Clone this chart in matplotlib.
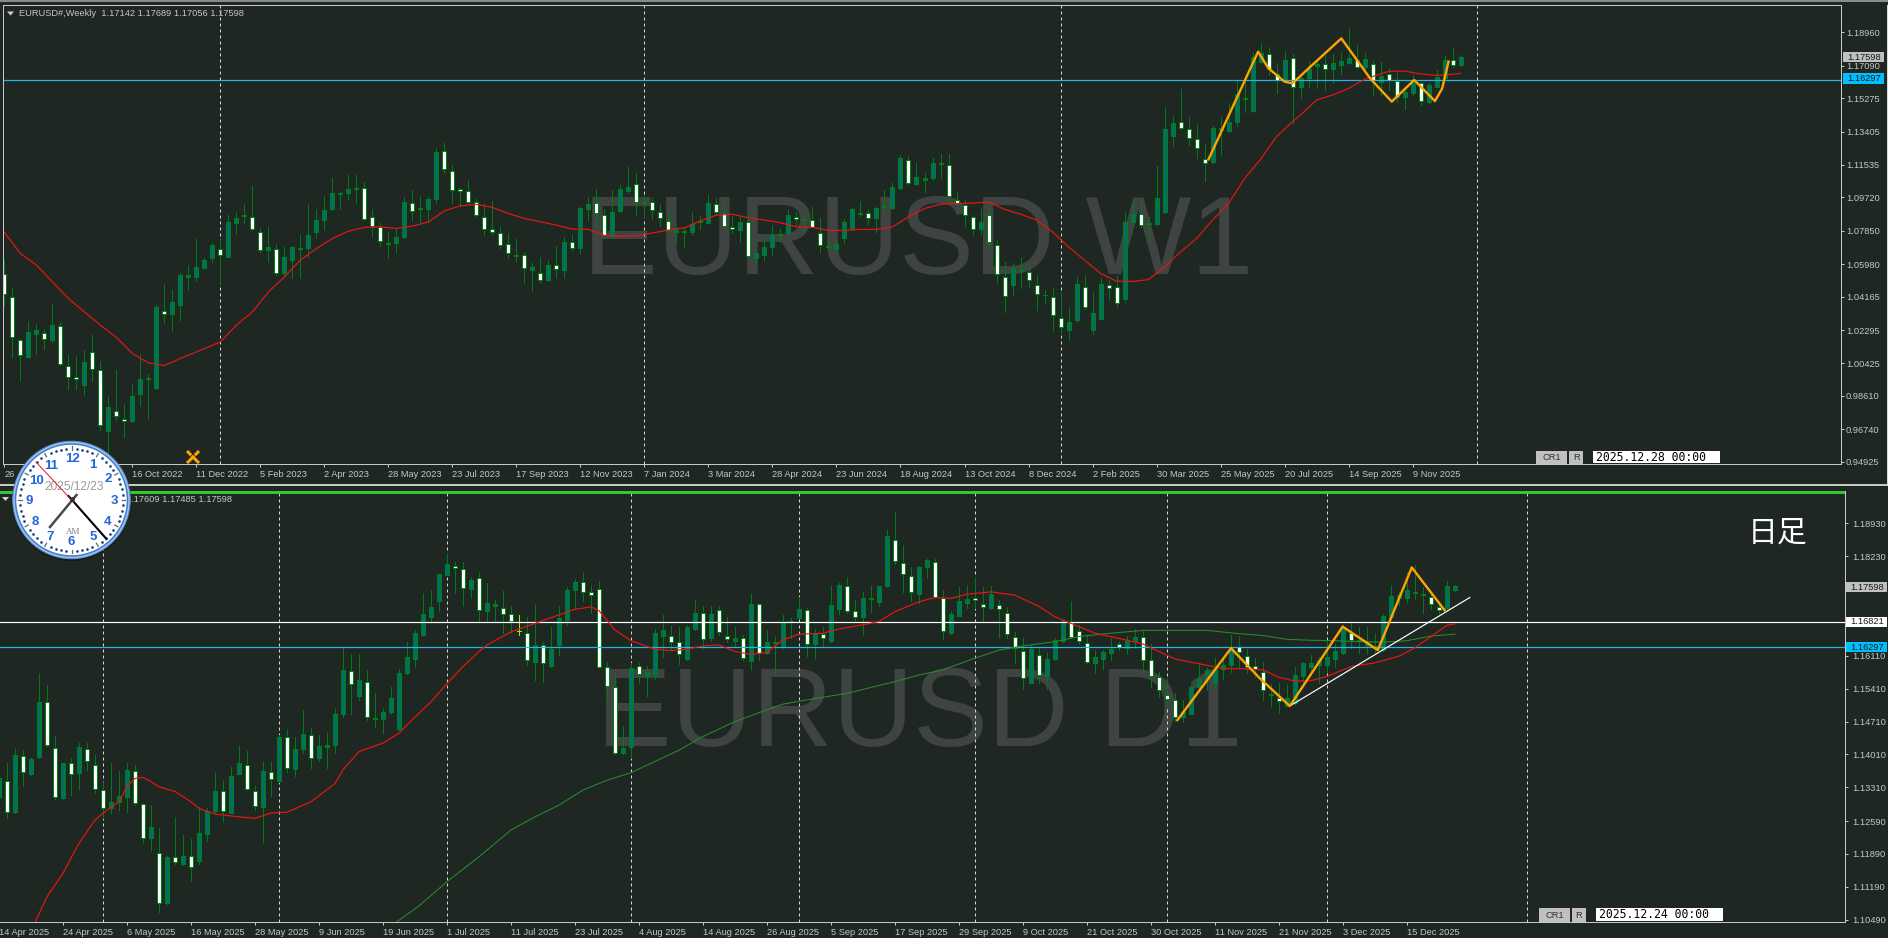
import numpy as np
import matplotlib
matplotlib.use("Agg")
import matplotlib.pyplot as plt
from matplotlib.patches import Rectangle, Circle

W, H = 1888, 938
BG = '#1f2723'

# ---- weekly EURUSD, prices in units of 0.0001
weekly_open = [10542,10415,10173,10079,10210,10214,10176,10253,10027,9967,
9924,10107,10008,9665,9777,9732,9721,9874,9956,9906,
10337,10322,10372,10529,10527,10578,10634,10684,10641,10830,
10867,10863,10779,10680,10682,10546,10624,10684,10686,10776,
10843,10905,10990,10994,11020,11026,10863,10807,10718,10714,
10748,10942,10905,10908,10961,11233,11119,11018,11007,10946,
10863,10794,10774,10712,10652,10651,10568,10550,10507,10593,
10568,10722,10686,10908,10942,10873,10757,10897,11005,11045,
10938,10947,10891,10841,10779,10778,10776,10837,10830,10936,
10882,10806,10787,10834,10630,10652,10692,10759,10770,10862,
10845,10845,10774,10699,10684,10742,10802,10878,10884,10854,
10923,10914,11026,11183,11045,11071,11078,11157,11155,10957,
10929,10863,10793,10873,10705,10526,10479,10561,10554,10481,
10423,10415,10296,10232,10283,10471,10232,10294,10481,10471,
10406,10837,10878,10821,10822,10888,11313,11396,11356,11300,
11188,11172,11349,11343,11396,11521,11457,11728,11776,11663,
11629,11754,11592,11642,11709,11720,11692,11711,11726,11741,
11704,11719,11616,11663,11625,11532,11554,11612,11508,11592,
11638,11739,11714]
weekly_close = [10430,10188,10089,10216,10227,10182,10260,10042,9964,9958,
10048,10014,9697,9799,9747,9723,9863,9958,9960,10356,
10322,10389,10540,10535,10585,10619,10703,10649,10832,10854,
10871,10793,10680,10695,10546,10636,10695,10690,10759,10843,
10903,10994,10994,11017,11026,10850,10811,10729,10709,10748,
10944,10895,10910,10964,11224,11130,11013,11007,10944,10873,
10794,10779,10705,10658,10643,10574,10583,10509,10595,10570,
10723,10686,10910,10936,10886,10761,10891,11017,11031,10944,
10947,10901,10854,10789,10789,10783,10821,10841,10938,10888,
10811,10793,10837,10643,10658,10692,10763,10768,10871,10849,
10850,10807,10705,10694,10712,10837,10905,10882,10854,10910,
10918,11028,11190,11050,11084,11078,11162,11162,10979,10942,
10873,10794,10837,10723,10542,10419,10578,10567,10509,10430,
10428,10313,10247,10272,10488,10358,10326,10488,10466,10382,
10835,10880,10817,10826,10966,11353,11390,11360,11304,11248,
11162,11358,11362,11392,11551,11526,11756,11778,11691,11629,
11739,11592,11642,11691,11720,11691,11722,11733,11750,11702,
11745,11629,11649,11629,11532,11564,11614,11513,11599,11644,
11739,11711,11760]
weekly_high = [10621,10462,10182,10279,10262,10238,10374,10275,10089,10083,
10117,10201,10057,9859,10005,9814,9930,10098,9982,10369,
10486,10453,10546,10596,10740,10630,10718,10733,10873,10891,
10934,11035,10798,10804,10710,10695,10699,10761,10934,10905,
10981,11082,11003,11097,11097,11058,10906,10830,10779,10793,
10975,11011,10977,10975,11246,11274,11153,11022,11069,10961,
10934,10951,10807,10770,10737,10667,10602,10639,10621,10699,
10748,10759,10916,10975,11017,10905,11013,11041,11140,11106,
10985,10966,10934,10901,10807,10807,10891,10867,10985,10966,
10947,10867,10873,10882,10662,10751,10817,10793,10901,10890,
10882,10916,10854,10737,10746,10849,10910,10951,10905,10916,
11013,11054,11207,11203,11162,11106,11192,11214,11214,11003,
10957,10873,10906,10947,10733,10613,10602,10630,10602,10537,
10453,10462,10442,10356,10527,10535,10443,10518,10509,10531,
10891,10951,10957,10863,11147,11476,11427,11579,11424,11382,
11270,11371,11424,11498,11629,11629,11778,11834,11816,11722,
11791,11775,11648,11735,11735,11769,11775,11778,11918,11825,
11782,11735,11728,11694,11670,11573,11657,11620,11610,11685,
11763,11806,11769]
weekly_low = [10363,10076,9949,10076,10098,10126,10163,10033,9902,9902,
9865,9945,9669,9519,9728,9631,9715,9803,9732,9902,
10270,10225,10288,10453,10505,10574,10611,10481,10636,10766,
10830,10789,10667,10611,10537,10537,10518,10518,10639,10746,
10789,10901,10906,10962,10942,10845,10755,10699,10634,10667,
10742,10845,10835,10835,10942,11110,10942,10923,10938,10867,
10761,10766,10686,10634,10615,10490,10449,10494,10503,10522,
10518,10680,10662,10845,10807,10748,10748,10891,10994,10873,
10854,10849,10811,10779,10723,10695,10761,10793,10826,10873,
10807,10770,10723,10636,10602,10621,10649,10723,10761,10817,
10785,10804,10667,10677,10667,10714,10789,10869,10822,10779,
10882,10905,11018,11046,11041,11003,11069,11078,10947,10929,
10811,10761,10766,10686,10494,10331,10425,10462,10468,10341,
10382,10225,10214,10176,10275,10350,10210,10290,10397,10359,
10387,10807,10807,10733,10817,10882,11259,11353,11265,11190,
11065,11166,11209,11340,11371,11452,11452,11722,11657,11558,
11625,11390,11526,11592,11582,11573,11610,11663,11719,11694,
11689,11545,11545,11573,11508,11468,11545,11489,11502,11588,
11633,11704,11706]

weekly_ma_x = [0,2,4,6,8,10,12,14,16,18,20,22,24,27,29,31,33,35,37,39,41,43,45,47,49,51,53,55,57,59,61,63,65,67,69,71,73,75,77,
79,80,83,85,87,89,91,93,95,97,99,101,103,105,107,109,111,113,115,117,119,121,123,125,127,129,131,133,135,137,139,141,143,145,147,149,151,153,155,157,
159,161,162,164,166,168,170,172,173,175,177,179,181,182]
weekly_ma = [10776,10658,10593,10499,10406,10331,10257,10188,10098,10046,10031,10070,10107,10163,10257,10331,10443,10527,10621,10686,10742,10783,10804,10807,10798,10811,10835,10897,10925,10933,10916,10882,10854,10835,10817,10794,10793,10759,10755,
10757,10765,10789,10802,10841,10873,10877,10858,10845,10830,10807,10804,10787,10787,10793,10793,10807,10863,10910,10934,10938,10940,10946,10905,10878,10845,10779,10695,10621,10546,10503,10501,10512,10583,10667,10742,10845,10938,11078,11185,
11312,11396,11433,11517,11545,11582,11633,11663,11677,11679,11663,11655,11661,11666]
weekly_zig_x = [150.5,156.7,156.95,158,160,161,163,167.1,170.7,173.4,176.2,178.8,179.7,180.5]
weekly_zig = [11185,11788,11769,11694,11620,11610,11694,11862,11638,11508,11629,11511,11582,11732]

weekly_ticks = [0,8,16,24,32,40,48,56,64,72,80,88,96,104,112,120,128,136,144,152,160,168,176]
weekly_dates = ['26','','16 Oct 2022','11 Dec 2022','5 Feb 2023','2 Apr 2023','28 May 2023','23 Jul 2023','17 Sep 2023','12 Nov 2023','7 Jan 2024','3 Mar 2024','28 Apr 2024','23 Jun 2024','18 Aug 2024','13 Oct 2024','8 Dec 2024','2 Feb 2025','30 Mar 2025','25 May 2025','20 Jul 2025','14 Sep 2025','9 Nov 2025']
weekly_seps = [27,80,132,184]
weekly_prices = [1.18960,1.17090,1.15275,1.13405,1.11535,1.09720,1.07850,1.05980,1.04165,1.02295,1.00425,0.98610,0.96740,0.94925]

# ---- daily EURUSD, first bar has index -1
daily_open = [11311,11345,11278,11398,11360,11395,11513,11415,11309,11383,
11361,11413,11379,11326,11286,11300,11311,11366,11295,11222,
11190,11084,11183,11167,11185,11175,11231,11281,11324,11277,
11360,11379,11324,11290,11364,11345,11437,11370,11412,11443,
11394,11416,11420,11486,11579,11526,11556,11476,11477,11491,
11456,11574,11605,11656,11694,11728,11784,11803,11796,11754,
11777,11707,11716,11713,11699,11664,11660,11597,11633,11590,
11633,11688,11752,11767,11747,11754,11588,11545,11403,11416,
11590,11567,11572,11654,11654,11641,11605,11669,11703,11648,
11708,11654,11643,11648,11599,11722,11616,11641,11630,11684,
11692,11708,11635,11658,11643,11710,11760,11706,11693,11731,
11726,11760,11858,11809,11781,11743,11801,11811,11733,11659,
11696,11723,11733,11721,11712,11720,11703,11651,11622,11554,
11613,11567,11605,11642,11682,11663,11639,11595,11605,11616,
11635,11627,11642,11650,11601,11566,11528,11517,11480,11488,
11544,11561,11554,11582,11591,11630,11611,11589,11577,11530,
11521,11505,11510,11567,11588,11591,11592,11605,11616,11659,
11642,11633,11632,11623,11693,11735,11735,11745,11743,11736,
11715,11712,11750]
daily_close = [11350,11278,11399,11364,11391,11512,11420,11310,11382,11359,
11416,11387,11327,11286,11299,11313,11367,11297,11222,11246,
11084,11183,11171,11185,11161,11233,11281,11324,11280,11356,
11382,11327,11291,11365,11348,11439,11371,11412,11444,11393,
11418,11420,11486,11580,11550,11559,11480,11478,11491,11520,
11574,11609,11659,11699,11714,11786,11806,11797,11755,11772,
11708,11723,11721,11700,11686,11663,11602,11633,11595,11625,
11691,11752,11767,11747,11740,11587,11547,11403,11414,11584,
11572,11576,11659,11665,11640,11615,11673,11703,11647,11699,
11662,11646,11648,11606,11721,11617,11641,11638,11681,11686,
11710,11636,11660,11649,11719,11761,11706,11694,11733,11733,
11759,11865,11813,11786,11746,11801,11814,11737,11664,11699,
11727,11731,11730,11715,11742,11711,11657,11628,11563,11625,
11570,11605,11645,11686,11650,11642,11598,11609,11618,11625,
11629,11643,11650,11601,11568,11538,11518,11481,11492,11545,
11562,11581,11584,11591,11630,11620,11588,11583,11538,11527,
11515,11520,11569,11595,11595,11601,11609,11621,11673,11645,
11645,11641,11628,11696,11738,11740,11750,11747,11740,11721,
11708,11759,11760]
daily_high = [11382,11382,11414,11410,11393,11574,11549,11440,11382,11393,
11425,11425,11400,11343,11382,11366,11382,11378,11297,11293,
11244,11185,11267,11229,11220,11288,11286,11363,11346,11375,
11419,11408,11334,11384,11384,11442,11454,11439,11496,11457,
11442,11449,11499,11630,11614,11614,11581,11532,11500,11544,
11582,11641,11666,11744,11752,11786,11829,11810,11811,11778,
11790,11765,11730,11749,11716,11698,11694,11721,11641,11673,
11717,11758,11775,11789,11762,11770,11598,11572,11461,11595,
11595,11589,11669,11698,11674,11673,11677,11730,11716,11716,
11718,11693,11673,11655,11742,11723,11666,11652,11698,11691,
11737,11712,11669,11673,11760,11765,11779,11730,11747,11760,
11760,11879,11917,11847,11801,11802,11818,11818,11752,11706,
11758,11762,11778,11757,11760,11730,11714,11661,11648,11634,
11627,11618,11648,11689,11728,11677,11655,11623,11623,11648,
11641,11653,11667,11664,11637,11577,11563,11532,11517,11549,
11591,11584,11606,11608,11655,11653,11625,11607,11597,11551,
11552,11551,11588,11598,11613,11609,11645,11637,11677,11680,
11672,11672,11659,11699,11762,11747,11790,11804,11757,11747,
11723,11770,11761]
daily_low = [11304,11265,11276,11334,11357,11393,11418,11307,11307,11315,
11327,11368,11318,11265,11276,11283,11279,11293,11212,11196,
11066,11082,11168,11166,11132,11168,11217,11277,11256,11276,
11359,11325,11283,11212,11312,11343,11364,11356,11405,11371,
11386,11373,11403,11481,11487,11517,11474,11460,11446,11488,
11453,11572,11587,11653,11681,11707,11782,11745,11716,11733,
11686,11684,11684,11660,11660,11655,11591,11559,11556,11586,
11613,11677,11711,11728,11701,11584,11517,11401,11402,11393,
11552,11526,11562,11609,11623,11593,11602,11666,11628,11643,
11655,11641,11630,11601,11581,11602,11614,11574,11628,11648,
11691,11611,11605,11630,11641,11700,11703,11684,11655,11705,
11716,11758,11806,11747,11728,11723,11777,11735,11646,11657,
11696,11712,11712,11684,11711,11650,11648,11596,11540,11552,
11552,11540,11602,11641,11648,11636,11596,11575,11583,11602,
11623,11615,11627,11577,11545,11524,11503,11473,11469,11487,
11538,11539,11545,11561,11577,11588,11574,11565,11517,11501,
11490,11503,11506,11556,11570,11554,11577,11588,11615,11627,
11616,11614,11620,11621,11691,11719,11723,11732,11701,11710,
11701,11708,11748]

daily_ma_x = [3.5,5,7,9,11,12,14,15,16,17,18,19,21,23,24,26,29,31,33,35,38,41,42,44,47,49,50,53,55,57,59,60,63,66,69,71,73,74,76,78,
81,83,85,87,89,91,93,95,97,99,102,104,107,109,111,114,116,118,120,123,126,129,131,134,136,139,142,144,146,149,152,155,157,159,161,163,165,168,171,174,176,178,180,181]
daily_ma = [11043,11098,11148,11212,11261,11276,11300,11332,11350,11352,11343,11332,11322,11300,11286,11274,11268,11265,11276,11278,11300,11339,11368,11407,11425,11446,11464,11513,11552,11588,11620,11634,11662,11680,11698,11710,11715,11707,11666,11643,
11625,11622,11625,11632,11634,11620,11614,11618,11645,11657,11659,11668,11677,11684,11705,11726,11735,11733,11742,11747,11740,11716,11694,11673,11659,11648,11636,11620,11604,11594,11584,11583,11581,11565,11557,11558,11567,11588,11596,11610,11628,11652,11676,11679]
daily_slow_x = [48.6,51.4,55,59,63,66,69,72,75,78,81,84,87,91,95,97,100,105,111,114,117,121,124,127,131,134,138,142,145,150,154,157,160,163,166,169,172,175,178,181]
daily_slow = [11043,11077,11130,11183,11240,11268,11293,11325,11346,11362,11386,11410,11439,11471,11496,11508,11517,11531,11556,11570,11581,11606,11623,11632,11641,11652,11659,11665,11665,11665,11658,11654,11646,11644,11643,11641,11640,11643,11653,11657]
daily_zig_x = [146.3,153,156.6,160.35,166.95,171.35,175.6,179.7]
daily_zig = [11474,11627,11563,11504,11673,11623,11799,11708]
daily_trend_x = [160.35,182.85]
daily_trend = [11504,11735]

daily_ticks = [-1,7,15,23,31,39,47,55,63,71,79,87,95,103,111,119,127,135,143,151,159,167,175]
daily_dates = ['14 Apr 2025','24 Apr 2025','6 May 2025','16 May 2025','28 May 2025','9 Jun 2025','19 Jun 2025','1 Jul 2025','11 Jul 2025','23 Jul 2025','4 Aug 2025','14 Aug 2025','26 Aug 2025','5 Sep 2025','17 Sep 2025','29 Sep 2025','9 Oct 2025','21 Oct 2025','30 Oct 2025','11 Nov 2025','21 Nov 2025','3 Dec 2025','15 Dec 2025']
daily_seps = [12,34,55,78,99,121,145,165,190]
daily_prices = [1.18930,1.18230,1.17530,1.16110,1.15410,1.14710,1.14010,1.13310,1.12590,1.11890,1.11190,1.10490]
daily_hidden_price = 1.17530
daily_cursor = 64

last_price = 1.17598
support = 1.16297
resistance = 1.16821

plt.rcParams['font.family'] = ['Liberation Sans', 'DejaVu Sans']
PX = 0.72
TXT = '#c4c8c4'
fig = plt.figure(figsize=(W/100, H/100), dpi=100, facecolor=BG)

def panel(l, t, r, b):
    ax = fig.add_axes([l/W, 1-b/H, (r-l)/W, (b-t)/H], facecolor=BG)
    return ax

def candles(ax, first, o, h, l, c, cursor=None):
    o, h, l, c = [np.array(a)/1e4 for a in (o, h, l, c)]
    x = np.arange(first, first+len(o))
    keep = x != cursor if cursor is not None else np.ones(len(x), bool)
    ax.vlines(x[keep], l[keep], h[keep], color='#007a12', lw=PX, antialiased=False, zorder=3)
    up = c >= o
    cols = np.where(up, '#006f6a', '#ffffff')
    ax.bar(x[keep], np.abs(c-o)[keep], bottom=np.minimum(o, c)[keep], width=0.5,
           color=cols[keep], edgecolor='#007f14', linewidth=PX, antialiased=False, zorder=4)
    if cursor is not None:
        i = list(x).index(cursor)
        ax.vlines(x[i], l[i], h[i], color='#7cfc00', lw=PX, antialiased=False, zorder=4)
        ax.hlines(c[i], x[i]-0.25, x[i]+0.25, color='#7cfc00', lw=PX, antialiased=False, zorder=4)

def dress(ax, ticks, dates, prices, seps, pad, hidden=None):
    ax.set_xticks(ticks)
    ax.set_xticklabels(dates, ha='left')
    ax.yaxis.tick_right()
    ax.set_yticks(prices)
    ax.set_yticklabels(['' if p == hidden else '%.5f' % p for p in prices])
    ax.tick_params(axis='x', length=2.2, width=PX, color='#c8c8c8', labelcolor=TXT, labelsize=6.7, pad=2)
    ax.tick_params(axis='y', length=2.2, width=PX, color='#c8c8c8', labelcolor=TXT, labelsize=6.7, pad=pad)
    for s in ax.spines.values():
        s.set_color('#c8c8c8')
        s.set_linewidth(PX)
    for v in seps:
        ax.axvline(v, color='#d8d8d8', lw=PX, ls=(0, (3, 3)), zorder=2)

# ---- weekly panel
ax1 = panel(3, 5.5, 1841.4, 464)
ax1.set_xlim(-0.175, 229.6)
ax1.set_ylim(0.94796, 1.20461)
dress(ax1, weekly_ticks, weekly_dates, weekly_prices, weekly_seps, 1.2)
ax1.text(583, 938-274, 'EURUSD W1', transform=None, fontsize=80.5, color='#3f4442', zorder=1, va='baseline')
ax1.axhline(support, color='#22b8e6', lw=PX*1.2, zorder=5)
candles(ax1, 0, weekly_open, weekly_high, weekly_low, weekly_close)
ax1.plot(weekly_ma_x, np.array(weekly_ma)/1e4, color='#e81515', lw=0.85, zorder=6)
ax1.plot(weekly_zig_x, np.array(weekly_zig)/1e4, color='#ffa500', lw=1.7, zorder=7)

# ---- daily panel
ax2 = panel(-1, 491, 1844.6, 922)
ax2.set_xlim(-1, 229.7)
ax2.set_ylim(1.10441, 1.19618)
dress(ax2, daily_ticks, daily_dates, daily_prices, daily_seps, 3, hidden=daily_hidden_price)
ax2.text(597, 938-746, 'EURUSD D1', transform=None, fontsize=80.5, color='#3f4442', zorder=1, va='baseline')
ax2.axhline(resistance, color='#ffffff', lw=PX*1.2, zorder=5)
ax2.axhline(support, color='#22b8e6', lw=PX*1.2, zorder=5)
candles(ax2, -1, daily_open, daily_high, daily_low, daily_close, cursor=daily_cursor)
ax2.plot(daily_slow_x, np.array(daily_slow)/1e4, color='#2c8a2c', lw=0.75, zorder=6)
ax2.plot(daily_ma_x, np.array(daily_ma)/1e4, color='#e81515', lw=0.85, zorder=6)
ax2.plot(daily_trend_x, np.array(daily_trend)/1e4, color='#ffffff', lw=0.85, zorder=7)
ax2.plot(daily_zig_x, np.array(daily_zig)/1e4, color='#ffa500', lw=1.7, zorder=8)

# ---- overlay in pixel coordinates
ov = fig.add_axes([0, 0, 1, 1], facecolor='none', zorder=20)
ov.set_xlim(0, W); ov.set_ylim(H, 0); ov.axis('off')

def box(x0, y0, x1, y1, fc, ec='none', z=1):
    ov.add_patch(Rectangle((x0, y0), x1-x0, y1-y0, fc=fc, ec=ec, lw=PX, zorder=z))

# window chrome
box(0, 0, W, 2.5, '#8a8a8a')
box(0, 3, 3, 464, BG)
box(0, 484.5, W, 486.5, '#c8c8c8')
box(W-1.5, 5, W, 486, '#d8d8d8')
box(0, 491, 1844.6, 494.5, '#32c832')
ov.plot([3, 3], [5, 464], color='#c8c8c8', lw=PX)

# headers
ov.add_patch(plt.Polygon([[7, 11.5], [14, 11.5], [10.5, 15.5]], fc='#d0d0d0', zorder=2))
ov.text(19, 13.6, 'EURUSD#,Weekly  1.17142 1.17689 1.17056 1.17598', color=TXT, fontsize=6.7, va='center', ha='left', zorder=2)
ov.add_patch(plt.Polygon([[2, 497], [9, 497], [5.5, 501]], fc='#d0d0d0', zorder=2))
ov.text(232, 499, '.17609 1.17485 1.17598', color=TXT, fontsize=6.7, va='center', ha='right', zorder=2)

# price tags
def tag(x0, y0, x1, y1, fc, s, tx):
    box(x0, y0, x1, y1, fc, z=3)
    ov.text(tx, (y0+y1)/2+0.3, s, color='#1a1a1a', fontsize=6.7, va='center', ha='left', zorder=4)

tag(1842.6, 51.7, 1883.5, 61.7, '#c0c0c0', '%.5f' % last_price, 1847.4)
tag(1842.6, 73, 1883.5, 84, '#00bfff', '%.5f' % support, 1847.4)
tag(1845.8, 581.7, 1886.8, 591.7, '#c0c0c0', '%.5f' % last_price, 1850)
tag(1845.8, 616.7, 1886.8, 626.7, '#ffffff', '%.5f' % resistance, 1850)
tag(1845.8, 641.7, 1886.8, 652, '#00bfff', '%.5f' % support, 1850)

# CR1 / R buttons and date boxes
def buttons(x, y0, y1, s):
    box(x, y0, x+31, y1, '#c0c0c0', z=3)
    box(x+33, y0, x+47, y1, '#c0c0c0', z=3)
    ov.text(x+15.5, (y0+y1)/2, 'CR1', color='#303030', fontsize=6.7, ha='center', va='center', zorder=4)
    ov.text(x+40, (y0+y1)/2, 'R', color='#303030', fontsize=6.7, ha='center', va='center', zorder=4)
    box(x+56.5, y0, x+184, y1-0.7, '#ffffff', z=3)
    ov.text(x+60, (y0+y1)/2-0.3, s, color='#000000', fontsize=8.3, family='DejaVu Sans Mono', ha='left', va='center', zorder=4)

buttons(1536.4, 450.7, 464, '2025.12.28 00:00')
buttons(1539, 908.5, 922, '2025.12.24 00:00')

# annotation
ov.text(1778, 533, '日足', color='#ffffff', fontsize=21.5, family=['Noto Sans CJK JP', 'DejaVu Sans'], ha='center', va='center', zorder=4)

# small orange cross mark
for a, b in [((187, 451), (199, 463)), ((187, 463), (199, 451))]:
    ov.plot(*zip(a, b), color='#ffa500', lw=2.2, zorder=4, solid_capstyle='butt')
for a, b in [((190, 451), (199, 460)), ((187, 460), (196, 451))]:
    ov.plot(*zip(a, b), color='#1f2723', lw=0.6, zorder=4)

# clock
cx, cy = 71.5, 500
ov.add_patch(Circle((cx, cy+1.5), 59.5, fc='#00000055', ec='none', zorder=5))
ov.add_patch(Circle((cx, cy), 58.7, fc='#a9c8ee', ec='#5e8fd0', lw=0.8, zorder=6))
ov.add_patch(Circle((cx, cy), 56.8, fc='#3f7fd0', ec='none', zorder=6))
ov.add_patch(Circle((cx, cy), 55.2, fc='#ffffff', ec='none', zorder=6))
for m in range(60):
    ang = np.deg2rad(m*6)
    sx, cx_ = np.sin(ang), np.cos(ang)
    if m % 5 == 0:
        ov.plot([cx+50*sx, cx+53.5*sx], [cy-50*cx_, cy-53.5*cx_], color='#666666', lw=0.9, zorder=7)
    else:
        ov.plot(cx+51.5*sx, cy-51.5*cx_, '.', ms=1.8, color='#1b3f86', zorder=7)
numbers = {'12': (72, 459), '1': (92.4, 465), '2': (108.5, 479), '3': (114.5, 501), '4': (107.7, 522), '5': (93, 537),
           '6': (71.5, 542), '7': (50, 537), '8': (35, 522), '9': (29, 501), '10': (37, 481), '11': (51, 466)}
for s, (x, y) in numbers.items():
    ov.text(x, y, s, color='#1f66d6', fontsize=9.5, fontweight='bold', ha='center', va='center', zorder=8)
ov.text(74, 487, '2025/12/23', color='#9a9a9a', fontsize=8.6, ha='center', va='center', zorder=8)
ov.text(73, 532, 'AM', color='#808080', fontsize=6.5, family='Liberation Serif', ha='center', va='center', zorder=8)
ov.plot([cx+5, 50], [cy-5, 527], color='#4a4a4a', lw=1.8, zorder=9)
ov.plot([cx-3, 106.5], [cy-4, 539], color='#000000', lw=1.5, zorder=10)
ov.plot([36, cx+2], [462, cy+2], color='#e01818', lw=0.7, zorder=11)
ov.plot(cx, cy-0.5, 'o', ms=2.5, color='#333333', zorder=12)

fig.savefig('out.png', dpi=100, facecolor=BG)
